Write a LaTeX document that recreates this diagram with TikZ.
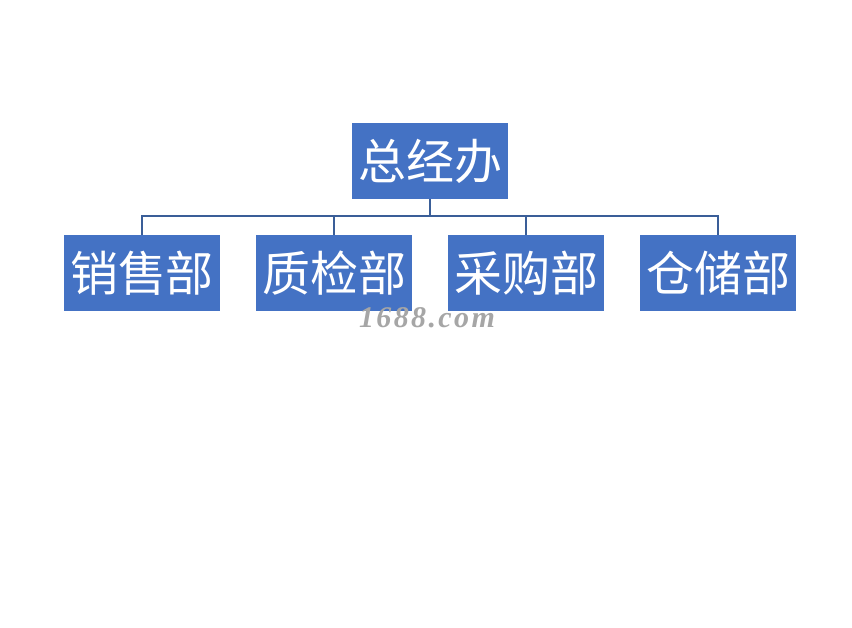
\documentclass[tikz,border=0pt]{standalone}
\usepackage{fontspec}
\newfontfamily\cjk{Noto Sans CJK SC}
\newfontfamily\wmfont[LetterSpace=8]{Liberation Serif}
\definecolor{boxblue}{HTML}{4472C4}
\definecolor{lineblue}{HTML}{3A5E98}
\begin{document}
\begin{tikzpicture}[x=1pt,y=-1pt,
  unit/.style={fill=boxblue, draw=none, minimum width=156pt, minimum height=76pt, inner sep=0pt,
    text=white, font=\cjk\fontsize{48}{48}\selectfont},
  link/.style={draw=lineblue, line width=1.8pt}]
\useasboundingbox (0,0) rectangle (852,628);
\fill[white] (0,0) rectangle (852,628);
\node[unit] (top) at (430,161) {总经办};
\node[unit] (a) at (142,273) {销售部};
\node[unit] (b) at (334,273) {质检部};
\node[unit] (c) at (526,273) {采购部};
\node[unit] (d) at (718,273) {仓储部};
\coordinate (j) at (430,216);
\draw[link] (top.south) -- (j);
\draw[link] (a.north) |- (j) -| (d.north);
\draw[link] (b.north) -- (b.north |- j);
\draw[link] (c.north) -- (c.north |- j);
\node[font=\wmfont\itshape\bfseries\fontsize{30}{30}\selectfont, text=gray!70] (wm) at (427,318) {1688.com};
\end{tikzpicture}
\end{document}
